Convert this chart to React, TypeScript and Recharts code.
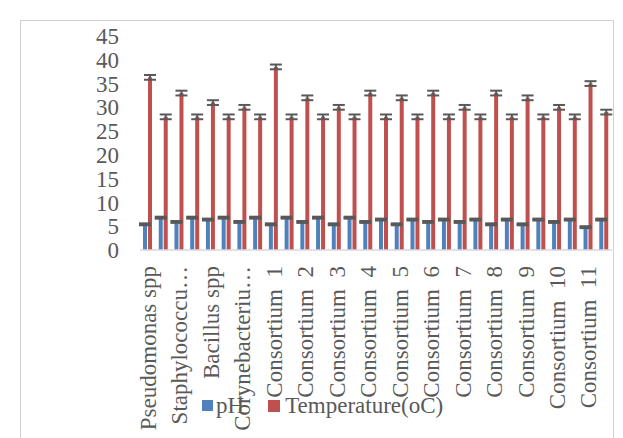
import React from 'react';
import { BarChart, Bar, XAxis, YAxis, Legend, ErrorBar } from 'recharts';

const strains = [
  'Pseudomonas spp', 'Staphylococcu…', 'Bacillus spp', 'Corynebacteriu…',
  'Consortium  1', 'Consortium  2', 'Consortium  3', 'Consortium  4', 'Consortium  5',
  'Consortium  6', 'Consortium  7', 'Consortium  8', 'Consortium  9', 'Consortium  10', 'Consortium  11',
];

// two measurements per strain
const phValues = [
  5.4, 6.8, 5.9, 6.8, 6.4, 6.8, 5.9, 6.8, 5.4, 6.8, 5.9, 6.8, 5.4, 6.8, 5.9,
  6.4, 5.4, 6.4, 5.9, 6.4, 5.9, 6.4, 5.4, 6.4, 5.4, 6.4, 5.9, 6.4, 4.8, 6.4,
];
const tempValues = [
  36.3, 28, 33, 28, 31, 28, 30, 28, 38.5, 28, 32, 28, 30, 28, 33,
  28, 32, 28, 33, 28, 30, 28, 33, 28, 32, 28, 30, 28, 35, 29,
];
const phErrors = phValues.map(() => 0.15);
const tempErrors = tempValues.map(() => 0.5);
const yTicks = [0, 5, 10, 15, 20, 25, 30, 35, 40, 45];

const data = phValues.map((ph, i) => ({
  slot: `s${i}`,
  ph,
  temp: tempValues[i],
  phErr: phErrors[i],
  tempErr: tempErrors[i],
}));

const font = '"Liberation Serif", "Times New Roman", serif';
const grey = '#595959';

const StrainTick = ({ x, y, payload }: any) => {
  const i = payload.index;
  if (i % 2 === 1) return <g />;
  return (
    <text
      x={x}
      y={y + 8}
      transform={`rotate(-90, ${x}, ${y + 8})`}
      textAnchor="end"
      dy="0.35em"
      fill={grey}
      fontSize={23}
      style={{ whiteSpace: 'pre', fontFamily: font }}
    >
      {strains[i / 2]}
    </text>
  );
};

const LegendBox = () => (
  <div style={{ display: 'flex', alignItems: 'center', fontFamily: font, fontSize: 23, color: grey, lineHeight: '23px' }}>
    <span style={{ width: 11, height: 11, background: '#4F81BD', display: 'inline-block', marginRight: 3 }} />
    <span style={{ marginRight: 24 }}>pH</span>
    <span style={{ width: 12, height: 12, background: '#C0504D', display: 'inline-block', marginRight: 5 }} />
    <span>Temperature(oC)</span>
  </div>
);

export default function App() {
  return (
    <div style={{ position: 'absolute', left: 0, top: 0, width: 623, height: 438, background: '#fff', overflow: 'hidden' }}>
      <div style={{ position: 'absolute', left: 20, top: 20, width: 592, height: 430, border: '1px solid #D0D0D0' }} />
      <BarChart
        width={623}
        height={438}
        data={data}
        margin={{ top: 36, right: 11, bottom: 0, left: 0 }}
        barSize={4}
        barGap={1}
      >
        <XAxis
          dataKey="slot"
          interval={0}
          height={188}
          tick={<StrainTick />}
          tickLine={false}
          axisLine={{ stroke: '#D9D9D9', strokeWidth: 1.5 }}
        />
        <YAxis
          width={140}
          domain={[0, 45]}
          ticks={yTicks}
          interval={0}
          axisLine={false}
          tickLine={false}
          tickSize={0}
          tickMargin={21}
          tick={{ fill: grey, fontSize: 23, style: { fontFamily: font } }}
        />
        <Legend
          layout="horizontal"
          verticalAlign="middle"
          align="center"
          content={<LegendBox />}
          wrapperStyle={{ left: 202, top: 394, width: 'auto', height: 'auto' }}
        />
        <Bar dataKey="ph" name="pH" fill="#4F81BD" isAnimationActive={false}>
          <ErrorBar dataKey="phErr" width={6} stroke={grey} strokeWidth={2.5} direction="y" />
        </Bar>
        <Bar dataKey="temp" name="Temperature(oC)" fill="#C0504D" isAnimationActive={false}>
          <ErrorBar dataKey="tempErr" width={6} stroke={grey} strokeWidth={2} direction="y" />
        </Bar>
      </BarChart>
    </div>
  );
}
